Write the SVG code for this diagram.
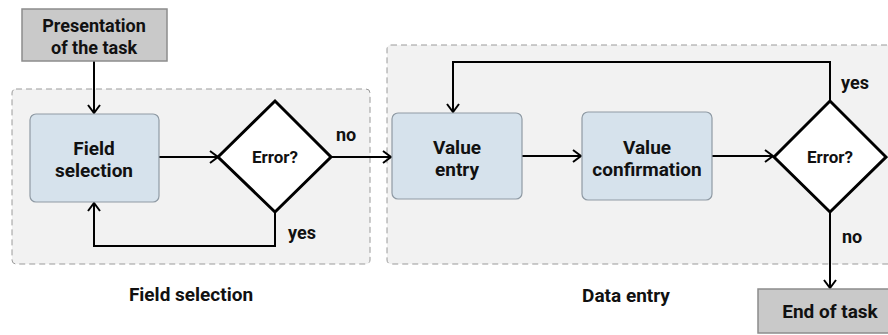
<svg xmlns="http://www.w3.org/2000/svg" width="888" height="335" viewBox="0 0 888 335">
  <defs>
    <marker id="arrow" viewBox="0 0 10 14" refX="9" refY="7" markerWidth="10" markerHeight="14" markerUnits="userSpaceOnUse" orient="auto">
      <path d="M1,1 L9,7 L1,13" fill="none" stroke="#000" stroke-width="2"/>
    </marker>
  </defs>
  <style>
    .txt { font-family: Roboto, "Liberation Sans", Arial, sans-serif; font-weight: bold; fill: #111; text-anchor: middle; }
    .node { font-size: 19px; }
    .head { font-size: 18px; }
    .dec { font-size: 17px; }
    .lbl { font-size: 18px; }
    .cap { font-size: 19px; }
    .group { fill: #f2f2f2; stroke: #9a9a9a; stroke-width: 1; stroke-dasharray: 6 4; }
    .term { fill: #c9c9c9; stroke: #8c8c8c; stroke-width: 1.5; }
    .proc { fill: #d6e2ec; stroke: #8f9aa4; stroke-width: 1.2; }
    .diamond { fill: #fff; stroke: #000; stroke-width: 3; stroke-linejoin: miter; }
    .conn { fill: none; stroke: #000; stroke-width: 2; }
  </style>

  <rect width="888" height="335" fill="#fff"/>

  <!-- dashed phase groups -->
  <g id="group-field-selection">
    <rect class="group" x="12" y="89" width="358" height="175" rx="4"/>
    <text class="txt cap" x="191" y="301">Field selection</text>
  </g>
  <g id="group-data-entry">
    <rect class="group" x="387" y="45" width="510" height="219" rx="4"/>
    <text class="txt cap" x="626" y="302">Data entry</text>
  </g>

  <!-- connectors -->
  <g id="connectors">
    <line class="conn" x1="94" y1="61" x2="94" y2="113" marker-end="url(#arrow)"/>
    <line class="conn" x1="159" y1="157" x2="218" y2="157" marker-end="url(#arrow)"/>
    <polyline class="conn" points="275,212 275,246 94,246 94,203" marker-end="url(#arrow)"/>
    <line class="conn" x1="331" y1="157" x2="391" y2="157" marker-end="url(#arrow)"/>
    <line class="conn" x1="522" y1="156" x2="581" y2="156" marker-end="url(#arrow)"/>
    <line class="conn" x1="712" y1="156" x2="773" y2="156" marker-end="url(#arrow)"/>
    <polyline class="conn" points="830,101 830,62 453,62 453,112" marker-end="url(#arrow)"/>
    <line class="conn" x1="830" y1="212" x2="830" y2="288" marker-end="url(#arrow)"/>
    <text class="txt lbl" x="346" y="141">no</text>
    <text class="txt lbl" x="302" y="239">yes</text>
    <text class="txt lbl" x="855" y="89">yes</text>
    <text class="txt lbl" x="852" y="243">no</text>
  </g>

  <!-- nodes -->
  <g id="presentation">
    <rect class="term" x="22" y="9" width="145" height="52"/>
    <text class="txt head" x="94" y="32">Presentation</text>
    <text class="txt head" x="94" y="54">of the task</text>
  </g>
  <g id="field-selection">
    <rect class="proc" x="30" y="114" width="129" height="88" rx="6"/>
    <text class="txt node" x="94" y="155">Field</text>
    <text class="txt node" x="94" y="177">selection</text>
  </g>
  <g id="error-1">
    <polygon class="diamond" points="218,157 275,101 331,157 275,212"/>
    <text class="txt dec" x="275" y="163">Error?</text>
  </g>
  <g id="value-entry">
    <rect class="proc" x="392" y="113" width="130" height="86" rx="6"/>
    <text class="txt node" x="457" y="154">Value</text>
    <text class="txt node" x="457" y="176">entry</text>
  </g>
  <g id="value-confirmation">
    <rect class="proc" x="582" y="112" width="130" height="88" rx="6"/>
    <text class="txt node" x="647" y="154">Value</text>
    <text class="txt node" x="647" y="176">confirmation</text>
  </g>
  <g id="error-2">
    <polygon class="diamond" points="774,157 830,101 886,157 830,212"/>
    <text class="txt dec" x="830" y="163">Error?</text>
  </g>
  <g id="end-of-task">
    <rect class="term" x="758" y="289" width="140" height="44"/>
    <text class="txt node" x="830" y="318">End of task</text>
  </g>
</svg>
